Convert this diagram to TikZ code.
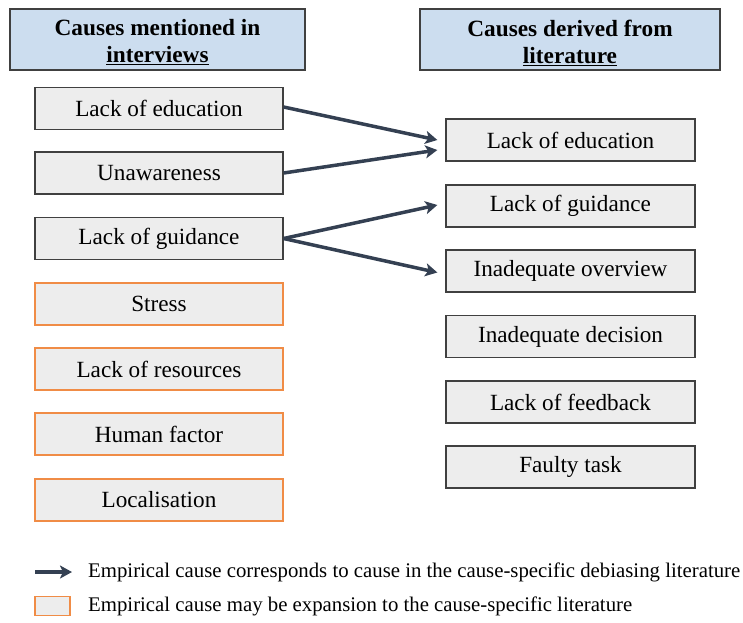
\documentclass[tikz,border=0pt]{standalone}
\usepackage{fontspec}
\setmainfont{Liberation Serif}
\usetikzlibrary{arrows.meta}
\definecolor{hdrfill}{RGB}{204,221,239}
\definecolor{boxfill}{RGB}{237,237,237}
\definecolor{boxline}{RGB}{64,64,64}
\definecolor{orng}{RGB}{240,140,70}
\definecolor{arr}{RGB}{52,64,82}
\begin{document}
\begin{tikzpicture}[x=1pt,y=-1pt,
 hdr/.style={draw=boxline, line width=1.5pt, fill=hdrfill, minimum width=295pt, minimum height=61pt, inner sep=0pt},
 hdrtext/.style={font=\fontsize{23.3}{27}\selectfont\bfseries, align=center, inner sep=0pt},
 cbox/.style={draw=boxline, line width=1.3pt, fill=boxfill, minimum width=248pt, minimum height=42pt, font=\fontsize{23.2}{27}\selectfont, inner sep=0pt},
 obox/.style={cbox, draw=orng, line width=1.8pt},
 link/.style={draw=arr, line width=3.5pt, -{Stealth[length=12pt,width=13pt,inset=3pt]}},
 legtext/.style={anchor=west, font=\fontsize{20.8}{24}\selectfont, inner sep=0pt}
]
\useasboundingbox (0,0) rectangle (743,622);
% headers
\node[hdr] (hl) at (157.5,39.5) {};
\node[hdrtext] (hlt) at ([yshift=-3pt]hl.center) {Causes mentioned in\\\underline{interviews}};
\node[hdr, minimum width=300pt] (hr) at (570,39.5) {};
\node[hdrtext] (hrt) at ([yshift=-3pt]hr.center) {Causes derived from\\\underline{literature}};
% left column
\node[cbox] (l1) at (159,108.5) {Lack of education};
\node[cbox] (l2) at (159,173) {Unawareness};
\node[cbox] (l3) at (159,238.5) {Lack of guidance};
\node[obox] (l4) at (159,304) {Stress};
\node[obox] (l5) at (159,369) {Lack of resources};
\node[obox] (l6) at (159,434) {Human factor};
\node[obox] (l7) at (159,500) {Localisation};
% right column
\node[cbox, minimum width=249pt] (r1) at (570.5,140) {Lack of education};
\node[cbox, minimum width=249pt] (r2) at (570.5,206) {Lack of guidance};
\node[cbox, minimum width=249pt] (r3) at (570.5,271) {Inadequate overview};
\node[cbox, minimum width=249pt] (r4) at (570.5,336.5) {Inadequate decision};
\node[cbox, minimum width=249pt] (r5) at (570.5,402) {Lack of feedback};
\node[cbox, minimum width=249pt] (r6) at (570.5,467) {Faulty task};
% connectors
\draw[link] ([yshift=1.5pt]l1.east) -- ([xshift=-8pt]r1.west);
\draw[link] (l2.east) -- ([xshift=-8pt,yshift=-10pt]r1.west);
\draw[link] (l3.east) -- ([xshift=-8pt,yshift=1pt]r2.west);
\draw[link] (l3.east) -- ([xshift=-8pt,yshift=-1.5pt]r3.west);
% legend
\coordinate (la1) at (35,572);
\coordinate (la2) at (72,572);
\draw[link] (la1) -- (la2);
\node[legtext] (lt1) at (88,572) {Empirical cause corresponds to cause in the cause-specific debiasing literature};
\node[obox, minimum width=35pt, minimum height=19pt] (lb) at (52.5,606) {};
\node[legtext] (lt2) at (88,606) {Empirical cause may be expansion to the cause-specific literature};
\end{tikzpicture}
\end{document}
